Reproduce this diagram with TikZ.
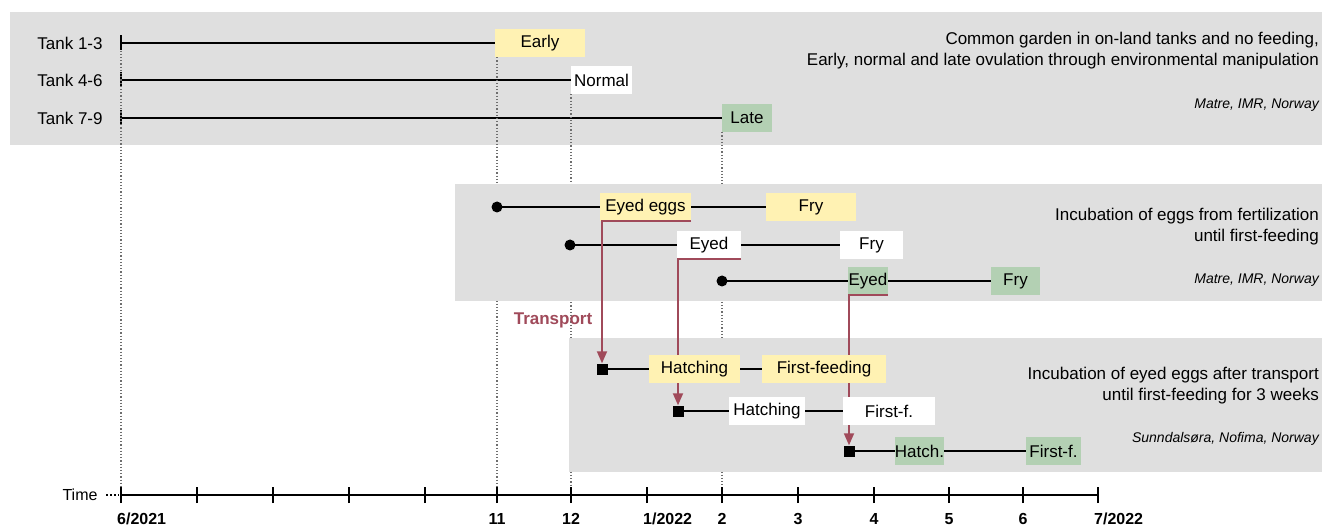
\documentclass[tikz,border=0pt]{standalone}
\usepackage{fontspec}
\setmainfont{Liberation Sans}
\usetikzlibrary{arrows.meta}
\definecolor{panelgray}{HTML}{DFDFDF}
\definecolor{eyellow}{HTML}{FFF2B3}
\definecolor{lgreen}{HTML}{B3D0B3}
\definecolor{transp}{HTML}{A04A5A}
\definecolor{dotgray}{HTML}{6E6E6E}
\begin{document}
\begin{tikzpicture}[x=1pt,y=-1pt,
  panel/.style={fill=panelgray,draw=none},
  stage/.style={minimum height=28pt,inner sep=0pt,font=\fontsize{17}{20}\selectfont},
  ybox/.style={stage,fill=eyellow},
  wbox/.style={stage,fill=white},
  gbox/.style={stage,fill=lgreen},
  tl/.style={line width=1.8pt,black},
  guide/.style={dotgray,line width=1.1pt,dash pattern=on 1.2pt off 2pt},
  tr/.style={transp,line width=1.8pt},
  trarrow/.style={tr,-{Triangle[length=12pt,width=10pt]}},
  startdot/.style={circle,fill=black,inner sep=0pt,minimum size=11pt},
  startsq/.style={rectangle,fill=black,inner sep=0pt,minimum size=11pt},
  tankstart/.style={rectangle,fill=black,inner sep=0pt,minimum width=2pt,minimum height=15pt},
  lbl/.style={font=\fontsize{17}{20}\selectfont},
  desc/.style={align=right,anchor=east,inner sep=0pt,font=\fontsize{17}{21}\selectfont},
  site/.style={anchor=east,inner sep=0pt,font=\itshape\fontsize{14}{16}\selectfont},
  axlbl/.style={font=\bfseries\fontsize{16}{18}\selectfont,inner sep=0pt},
  axtick/.style={line width=1.8pt,black}
]
\useasboundingbox (0,0) rectangle (1322,529);
\fill[white] (0,0) rectangle (1322,529);

% ---------- panel 1 ----------
\fill[panel] (10,12) rectangle (1322,145);
\node[lbl] (tank1) at (70,43) {Tank 1-3};
\node[lbl] (tank2) at (70,80) {Tank 4-6};
\node[lbl] (tank3) at (70,118) {Tank 7-9};
\node[tankstart] (a1) at (121,43) {};
\node[tankstart] (a2) at (121,80) {};
\node[tankstart] (a3) at (121,118) {};
\node[ybox,minimum width=90pt] (early) at (540,43) {Early};
\node[wbox,minimum width=61pt] (normal) at (601.5,80) {Normal};
\node[gbox,minimum width=50pt] (late) at (747,118) {Late};
\draw[tl] (a1.center) -- (early.west);
\draw[tl] (a2.center) -- (normal.west);
\draw[tl] (a3.center) -- (late.west);
\node[desc] (d1txt) at (1319,51) {Common garden in on-land tanks and no feeding,\\Early, normal and late ovulation through environmental manipulation};
\node[site] (site1) at (1319,105) {Matre, IMR, Norway};

% ---------- axis coordinates ----------
\foreach \n/\x in {0/121,1/197,2/273,3/349,4/425,5/497,6/571,7/647,8/722,9/798,10/874,11/949,12/1023,13/1098}
  \coordinate (t\n) at (\x,495);

% ---------- guides ----------
\draw[guide] (a1.south) -- (t0);
\draw[guide] (early.south west -| t5) -- (t5);
\draw[guide] (normal.south west -| t6) -- (t6);
\draw[guide] (late.south west -| t8) -- (t8);

% ---------- panels 2 and 3 ----------
\fill[panel] (455,184) rectangle (1322,301);
\fill[panel] (569,338) rectangle (1322,472);

% ---------- panel 2 ----------
\node[startdot] (d1) at (497,207) {};
\node[startdot] (d2) at (570,245) {};
\node[startdot] (d3) at (722,281) {};
\node[ybox,minimum width=91pt] (ee) at (645.5,207) {Eyed eggs};
\node[ybox,minimum width=90pt] (fy1) at (811,207) {Fry};
\node[wbox,minimum width=64pt] (ey2) at (709,245) {Eyed};
\node[wbox,minimum width=63pt] (fy2) at (871.5,245) {Fry};
\node[gbox,minimum width=40pt] (ey3) at (868,281) {Eyed};
\node[gbox,minimum width=49pt] (fy3) at (1015.5,281) {Fry};
\draw[tl] (d1.center) -- (ee.west);
\draw[tl] (ee.east) -- (fy1.west);
\draw[tl] (d2.center) -- (ey2.west);
\draw[tl] (ey2.east) -- (fy2.west);
\draw[tl] (d3.center) -- (ey3.west);
\draw[tl] (ey3.east) -- (fy3.west);
\node[desc] (d2txt) at (1319,226.5) {Incubation of eggs from fertilization\\until first-feeding};
\node[site] (site2) at (1319,280) {Matre, IMR, Norway};

% ---------- transport ----------
\node[startsq] (s1) at (602,369) {};
\node[startsq] (s2) at (678,411) {};
\node[startsq] (s3) at (849,451) {};
\draw[trarrow] (ee.south east) -- (ee.south west -| s1) -- (s1.north);
\draw[trarrow] (ey2.south east) -- (ey2.south west -| s2) -- (s2.north);
\draw[trarrow] (ey3.south east) -- (ey3.south west -| s3) -- (s3.north);
\node[font=\bfseries\fontsize{17}{20}\selectfont,text=transp] (transport) at (553,320) {Transport};

% ---------- panel 3 ----------
\node[ybox,minimum width=91pt] (h1) at (694.5,369) {Hatching};
\node[ybox,minimum width=124pt] (ff1) at (824,369) {First-feeding};
\node[wbox,minimum width=76pt] (h2) at (767,411) {Hatching};
\node[wbox,minimum width=92pt] (ff2) at (889,411) {First-f.};
\node[gbox,minimum width=47pt] (h3) at (919.5,451) {Hatch.};
\node[gbox,minimum width=55pt] (ff3) at (1053.5,451) {First-f.};
\draw[tl] (s1.center) -- (h1.west);
\draw[tl] (h1.east) -- (ff1.west);
\draw[tl] (s2.center) -- (h2.west);
\draw[tl] (h2.east) -- (ff2.west);
\draw[tl] (s3.center) -- (h3.west);
\draw[tl] (h3.east) -- (ff3.west);
\node[desc] (d3txt) at (1319,385.5) {Incubation of eyed eggs after transport\\until first-feeding for 3 weeks};
\node[site] (site3) at (1319,439) {Sunndalsøra, Nofima, Norway};

% ---------- time axis ----------
\node[font=\fontsize{16}{18}\selectfont] (time) at (80,495) {Time};
\draw[line width=2pt,dash pattern=on 2pt off 2pt] ([xshift=5pt]time.east) -- ([xshift=-2pt]t0);
\draw[tl] (t0) -- (t13);
\foreach \n in {0,...,13}
  \draw[axtick] ([yshift=-8pt]t\n) -- ([yshift=8pt]t\n);
\node[axlbl,anchor=west] (l0) at ([xshift=-4pt,yshift=-24pt]t0) {6/2021};
\node[axlbl] (l5) at ([yshift=-24pt]t5) {11};
\node[axlbl] (l6) at ([yshift=-24pt]t6) {12};
\node[axlbl,anchor=west] (l7) at ([xshift=-4pt,yshift=-24pt]t7) {1/2022};
\node[axlbl] (l8) at ([yshift=-24pt]t8) {2};
\node[axlbl] (l9) at ([yshift=-24pt]t9) {3};
\node[axlbl] (l10) at ([yshift=-24pt]t10) {4};
\node[axlbl] (l11) at ([yshift=-24pt]t11) {5};
\node[axlbl] (l12) at ([yshift=-24pt]t12) {6};
\node[axlbl,anchor=west] (l13) at ([xshift=-4pt,yshift=-24pt]t13) {7/2022};
\end{tikzpicture}
\end{document}
